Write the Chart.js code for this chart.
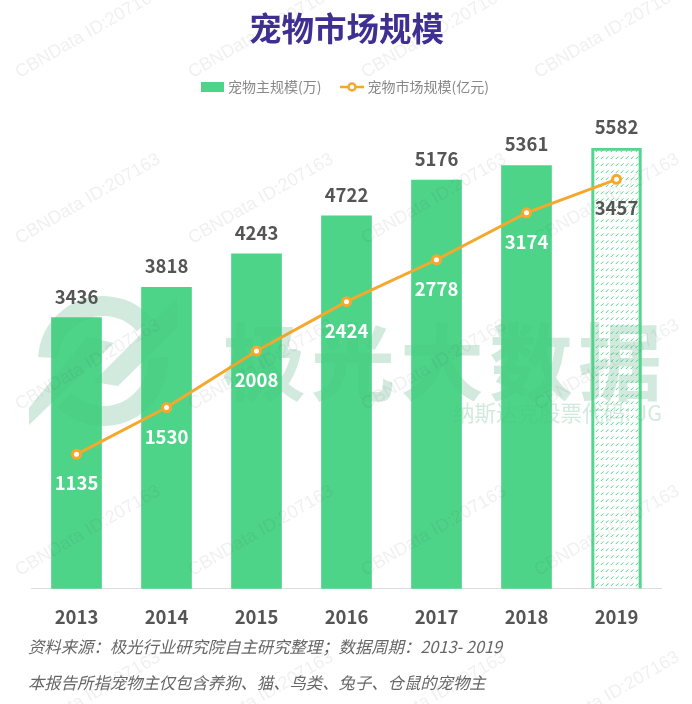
<!DOCTYPE html>
<html>
<head>
<meta charset="utf-8">
<style>
  html, body { margin: 0; padding: 0; background: #fff; }
  canvas { display: block; }
</style>
<script src="https://cdn.jsdelivr.net/npm/chart.js@4"></script>
</head>
<body>
<canvas id="chart" width="692" height="704"></canvas>
<script>
// datos
const years = ['2013', '2014', '2015', '2016', '2017', '2018', '2019'];
const petOwners = [3436, 3818, 4243, 4722, 5176, 5361, 5582];
const marketSize = [1135, 1530, 2008, 2424, 2778, 3174, 3457];
const ownersLabel = '宠物主规模(万)';
const marketLabel = '宠物市场规模(亿元)';
const titleText = '宠物市场规模';
const footerLines = ['资料来源：极光行业研究院自主研究整理；数据周期：2013- 2019', '本报告所指宠物主仅包含养狗、猫、鸟类、兔子、仓鼠的宠物主'];
const watermarkText = 'CBNData ID:207163';
const logoName = '极光大数据';
const logoSub = '纳斯达克股票代码: JG';

const GREEN = '#4dd488';
const ORANGE = '#f5a82c';
const CJK = '"Noto Sans CJK SC", "Noto Sans", sans-serif';

// trama de la ultima barra (prevision)
const makeHatch = () => {
    const tile = document.createElement('canvas');
    tile.width = 5;
    tile.height = 7;
    const c = tile.getContext('2d');
    c.strokeStyle = GREEN;
    c.lineWidth = 1;
    c.beginPath();
    c.moveTo(0.8, 5);
    c.lineTo(3.4, 2.4);
    c.stroke();
    return document.createElement('canvas').getContext('2d').createPattern(tile, 'repeat');
};

// simbolos de la leyenda
const barSwatch = () => {
    const s = document.createElement('canvas');
    s.width = 23;
    s.height = 10;
    const c = s.getContext('2d');
    c.fillStyle = GREEN;
    c.fillRect(0, 0, 23, 10);
    return s;
};
const lineSwatch = () => {
    const s = document.createElement('canvas');
    s.width = 24;
    s.height = 12;
    const c = s.getContext('2d');
    c.strokeStyle = ORANGE;
    c.lineWidth = 2.5;
    c.beginPath();
    c.moveTo(0, 6);
    c.lineTo(24, 6);
    c.stroke();
    c.beginPath();
    c.arc(12, 6, 3.5, 0, Math.PI * 2);
    c.fillStyle = '#fff';
    c.fill();
    c.stroke();
    return s;
};

// logo de fondo
const drawLogo = (c, color) => {
    c.save();
    c.fillStyle = color;
    c.strokeStyle = color;
    c.lineWidth = 20;
    c.beginPath();
    c.arc(103, 361, 55, Math.PI * 1.02, Math.PI * 1.77);
    c.stroke();
    c.beginPath();
    c.arc(103, 361, 55, -Math.PI * 0.02, Math.PI * 0.75);
    c.stroke();
    c.beginPath();
    c.moveTo(29, 425);
    c.lineTo(29, 408);
    c.lineTo(87, 337);
    c.lineTo(114, 343);
    c.closePath();
    c.fill();
    c.beginPath();
    c.moveTo(93, 382);
    c.lineTo(177, 298);
    c.lineTo(177, 328);
    c.lineTo(118, 386);
    c.closePath();
    c.fill();
    c.textBaseline = 'middle';
    c.textAlign = 'left';
    c.font = 'bold 84px ' + CJK;
    c.letterSpacing = '5px';
    c.fillText(logoName, 222, 362);
    c.letterSpacing = '0px';
    c.font = '21.5px ' + CJK;
    c.fillText(logoSub, 453, 413);
    c.restore();
};

const drawWatermarks = (c) => {
    c.save();
    c.font = '18px "Liberation Sans", sans-serif';
    c.fillStyle = 'rgba(90,90,90,0.09)';
    c.textAlign = 'center';
    c.textBaseline = 'middle';
    for (let row = 0; row < 5; row++) {
        for (let col = 0; col < 4; col++) {
            c.save();
            c.translate(88 + col * 173, 33 + row * 166);
            c.rotate(-Math.PI / 6);
            c.fillText(watermarkText, 0, 0);
            c.restore();
        }
    }
    c.restore();
};

const decorations = {
    id: 'decorations',
    beforeInit(chart) {
        // espacio extra debajo de la leyenda
        const fitLegend = chart.legend.fit;
        chart.legend.fit = function () {
            fitLegend.call(this);
            this.height += 11;
        };
    },
    beforeDatasetsDraw(chart) {
        drawLogo(chart.ctx, '#d9efe3');
    },
    afterDatasetsDraw(chart) {
        const c = chart.ctx;
        drawLogo(c, 'rgba(40,110,80,0.035)');

        // etiquetas de valores
        c.save();
        c.textAlign = 'center';
        c.textBaseline = 'middle';
        c.font = 'bold 18.5px ' + CJK;
        chart.getDatasetMeta(0).data.forEach((bar, i) => {
            c.fillStyle = '#555555';
            c.fillText(petOwners[i], bar.x, bar.y - 21);
        });
        chart.getDatasetMeta(1).data.forEach((pt, i) => {
            c.fillStyle = i === years.length - 1 ? '#555555' : '#ffffff';
            c.fillText(marketSize[i], pt.x, pt.y + 29);
        });

        // notas al pie
        c.textAlign = 'left';
        c.fillStyle = '#666666';
        c.font = 'italic 16.35px ' + CJK;
        c.fillText(footerLines[0], 28, 647);
        c.fillText(footerLines[1], 28, 683);
        c.restore();
    },
    afterDraw(chart) {
        drawWatermarks(chart.ctx);
    }
};

const lastIndex = years.length - 1;
const hatch = makeHatch();

new Chart(document.getElementById('chart'), {
    data: {
        labels: years,
        datasets: [
            {
                type: 'bar',
                label: ownersLabel,
                data: petOwners,
                yAxisID: 'y',
                order: 2,
                barThickness: 50,
                backgroundColor: years.map((y, i) => i === lastIndex ? hatch : GREEN),
                borderColor: years.map((y, i) => i === lastIndex ? '#55d68e' : 'rgba(0,0,0,0)'),
                borderWidth: years.map((y, i) => i === lastIndex ? 2.5 : 0)
            },
            {
                type: 'line',
                label: marketLabel,
                data: marketSize,
                yAxisID: 'y1',
                order: 1,
                borderColor: ORANGE,
                borderWidth: 3,
                tension: 0,
                pointRadius: 4,
                pointBorderWidth: 3,
                pointBorderColor: ORANGE,
                pointBackgroundColor: '#ffffff'
            }
        ]
    },
    options: {
        responsive: false,
        animation: false,
        devicePixelRatio: 1,
        layout: { padding: { left: 31.5, right: 30.5, top: 0, bottom: 59 } },
        plugins: {
            title: {
                display: true,
                text: titleText,
                color: '#3f2f92',
                font: { family: CJK, size: 32.5, weight: 'bold', lineHeight: 1.2 },
                padding: { top: 9, bottom: 10 }
            },
            legend: {
                display: true,
                position: 'top',
                labels: {
                    usePointStyle: true,
                    pointStyleWidth: 17,
                    padding: 22,
                    color: '#888888',
                    font: { family: CJK, size: 14 },
                    generateLabels: () => [
                        { text: ownersLabel, pointStyle: barSwatch(), fontColor: '#888888', lineWidth: 0, strokeStyle: 'rgba(0,0,0,0)', fillStyle: GREEN, datasetIndex: 0 },
                        { text: marketLabel, pointStyle: lineSwatch(), fontColor: '#888888', lineWidth: 0, strokeStyle: 'rgba(0,0,0,0)', fillStyle: ORANGE, datasetIndex: 1 }
                    ]
                }
            },
            tooltip: { enabled: false }
        },
        scales: {
            x: {
                grid: { display: false, drawTicks: false },
                border: { display: true, color: '#dddddd', width: 1 },
                ticks: {
                    color: '#555555',
                    padding: 17,
                    font: { family: CJK, size: 18.5, weight: 'bold' }
                }
            },
            y: { display: false, min: 0, max: 6000 },
            y1: { display: false, min: 0, max: 4000 }
        }
    },
    plugins: [decorations]
});
</script>
</body>
</html>
